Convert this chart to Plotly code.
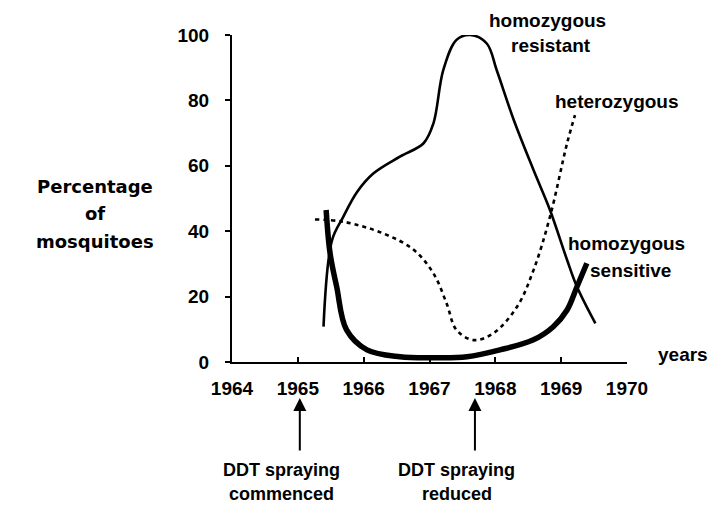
import plotly.graph_objects as go

# Data
resistant_years = [1965.39, 1965.52, 1965.69, 1965.9, 1966.15, 1966.55, 1966.91, 1967.06, 1967.21, 1967.41, 1967.62, 1967.87, 1968.02, 1968.28, 1968.58, 1968.83, 1969.09, 1969.24, 1969.52]
resistant_pct = [10.8, 37.3, 44.4, 52.0, 57.7, 62.8, 66.9, 73.0, 89.3, 98.5, 100.0, 97.4, 89.3, 74.0, 58.7, 46.5, 31.2, 23.0, 11.8]

sensitive_years = [1965.43, 1965.49, 1965.59, 1965.74, 1966.05, 1966.55, 1967.1, 1967.57, 1968.07, 1968.57, 1968.88, 1969.09, 1969.24, 1969.39]
sensitive_pct = [46.5, 33.2, 23.0, 9.8, 3.7, 1.6, 1.3, 1.6, 3.7, 6.7, 10.8, 15.9, 23.0, 30.2]

hetero_years = [1965.26, 1965.69, 1966.30, 1966.76, 1967.06, 1967.26, 1967.41, 1967.67, 1967.97, 1968.33, 1968.58, 1968.83, 1969.09, 1969.21]
hetero_pct = [43.6, 42.9, 39.3, 34.3, 27.1, 17.9, 9.8, 6.7, 8.8, 16.9, 28.1, 44.4, 66.9, 75.5]

x_ticks = [1964, 1965, 1966, 1967, 1968, 1969, 1970]
y_ticks = [0, 20, 40, 60, 80, 100]

ddt_events = [1965.03, 1967.69]
ddt_line1 = ["DDT spraying", "DDT spraying"]
ddt_line2 = ["commenced", "reduced"]

FONT = "Liberation Sans, Arial, sans-serif"
TITLE_FONT = "DejaVu Sans, Verdana, sans-serif"

# page-pixel helpers (plot area spans x 232..627, y 35..362 on the page)
def px(X):
    return (X - 232) / 395.0

def py(Y):
    return (362 - Y) / 327.0

fig = go.Figure()
fig.add_trace(go.Scatter(x=resistant_years, y=resistant_pct, mode="lines",
                         line=dict(color="black", width=2.6, shape="spline", smoothing=1.0),
                         name="homozygous resistant", cliponaxis=False))
fig.add_trace(go.Scatter(x=sensitive_years, y=sensitive_pct, mode="lines",
                         line=dict(color="black", width=5.5, shape="spline", smoothing=1.0),
                         name="homozygous sensitive", cliponaxis=False))
fig.add_trace(go.Scatter(x=hetero_years, y=hetero_pct, mode="lines",
                         line=dict(color="black", width=2.6, dash="4px,4px", shape="spline", smoothing=1.0),
                         name="heterozygous", cliponaxis=False))

labels = [
    ("homozygous", 547, 20),
    ("resistant", 551, 46),
    ("heterozygous", 617, 101),
    ("homozygous", 626, 243),
    ("sensitive", 630, 270),
    ("years", 683, 354),
]
for text, X, Y in labels:
    fig.add_annotation(xref="paper", yref="paper", x=px(X), y=py(Y), text=text,
                       xanchor="center", yanchor="middle", showarrow=False,
                       font=dict(family=FONT, size=19, color="black", weight="bold"))

for text, Y in [("Percentage", 186), ("of", 213), ("mosquitoes", 241)]:
    fig.add_annotation(xref="paper", yref="paper", x=px(95), y=py(Y), text=text,
                       xanchor="center", yanchor="middle", showarrow=False,
                       font=dict(family=TITLE_FONT, size=18, color="black", weight="bold"))

for xv, l1, l2 in zip(ddt_events, ddt_line1, ddt_line2):
    # arrow
    fig.add_annotation(xref="x", yref="paper", x=xv, y=py(398), ax=0, ay=54,
                       text="", showarrow=True, arrowhead=2, arrowsize=1.3,
                       arrowwidth=2, arrowcolor="black", standoff=0)
    xpix = 232 + (xv - 1964) * 65.83
    fig.add_annotation(xref="paper", yref="paper", x=px(xpix - 18), y=py(470), text=l1,
                       xanchor="center", yanchor="middle", showarrow=False,
                       font=dict(family=FONT, size=18, color="black", weight="bold"))
    fig.add_annotation(xref="paper", yref="paper", x=px(xpix - 18), y=py(494), text=l2,
                       xanchor="center", yanchor="middle", showarrow=False,
                       font=dict(family=FONT, size=18, color="black", weight="bold"))

fig.update_layout(
    width=710, height=502,
    margin=dict(l=224, r=91, t=27, b=148),
    paper_bgcolor="white", plot_bgcolor="white",
    showlegend=False,
    font=dict(family=FONT, size=16, color="black"),
    xaxis=dict(range=[1964, 1970], tickvals=x_ticks, ticktext=[str(v) for v in x_ticks],
               showgrid=False, zeroline=False, showline=True, linecolor="black", linewidth=2,
               ticks="inside", ticklen=5, tickwidth=2, tickcolor="black",
               ticklabelstandoff=8,
               tickfont=dict(family=FONT, size=19, color="black", weight="bold")),
    yaxis=dict(range=[0, 100], tickvals=y_ticks,
               showgrid=False, zeroline=False, showline=True, linecolor="black", linewidth=2,
               ticks="outside", ticklen=5, tickwidth=2, tickcolor="black",
               ticklabelstandoff=12,
               tickfont=dict(family=FONT, size=19, color="black", weight="bold")),
)

fig.write_html("out.html")
